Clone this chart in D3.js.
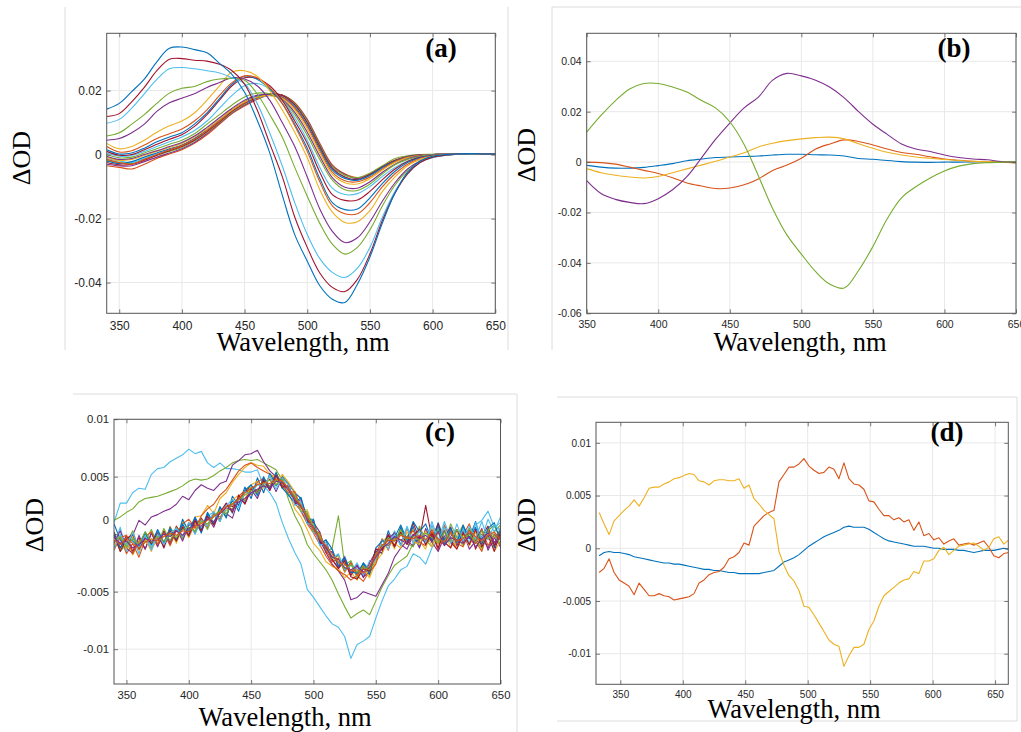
<!DOCTYPE html>
<html><head><meta charset="utf-8">
<script src="https://cdn.jsdelivr.net/npm/d3@7"></script>
<style>body{margin:0;background:#fff}svg{display:block}</style>
</head><body>
<svg id="chart" width="1021" height="732"></svg>
<script>
// ---------------- DATA (ΔOD values in units of 1e-4) ----------------
const U = 1e-4;
const XTICKS = [350,400,450,500,550,600,650];
const YTICKS_A = [-0.04,-0.02,0,0.02];
const YTICKS_B = [-0.06,-0.04,-0.02,0,0.02,0.04];
const YTICKS_C = [-0.01,-0.005,0,0.005,0.01];
const YTICKS_D = [-0.01,-0.005,0,0.005,0.01];

// Panel (a)
const WL_A = [340,350,360,370,380,390,400,410,420,430,440,450,460,470,480,490,500,510,520,530,540,550,560,570,580,590,600,610,620,630,640,650];
const A01 = [142,160,197,236,290,332,336,328, 318,285,250,195,108,6,-126,-250, -333,-410,-452,-462,-405,-320,-213,-120, -55,-20,-5,0,2,3,2,2];
const A02 = [119,128,165,210,262,298,300,295, 292,282,262,220,140,35,-68,-195, -290,-370,-415,-428,-390,-310,-205,-120, -60,-25,-8,-2,2,3,2,2];
const A03 = [98,110,145,190,235,268,272,268, 262,255,240,222,160,68,-35,-150, -250,-325,-368,-384,-355,-290,-195,-115, -60,-25,-10,-3,1,2,2,2];
const A04 = [58,68,95,125,160,192,207,213, 228,236,238,232,190,125,55,-40, -130,-215,-280,-311,-290,-235,-160,-95, -50,-22,-8,-2,1,2,2,2];
const A05 = [45,50,68,95,135,162,176,190, 210,225,240,236,215,170,100,25, -70,-170,-240,-275,-260,-210,-145,-88, -45,-20,-7,-2,1,2,2,2];
const A06 = [35,18,25,45,70,90,105,130, 170,215,258,262,245,200,140,70, -10,-110,-180,-212,-210,-175,-115,-70, -35,-15,-5,0,1,2,2,2];
const A07 = [25,8,12,30,50,65,80,105, 140,185,225,246,240,210,160,90, 10,-85,-160,-185,-185,-150,-100,-60, -30,-12,-4,0,1,2,2,2];
const A08 = [15,2,5,20,40,55,68,95, 130,175,220,245,235,205,160,95, 20,-75,-150,-172,-170,-135,-90,-52, -25,-10,-3,0,1,2,2,2];
const A09 = [10,-2,0,15,32,48,62,88, 125,170,215,240,238,215,170,105, 35,-55,-125,-143,-142,-115,-78,-45, -22,-8,-2,0,1,2,2,1];
const A10 = [5,-5,-3,10,25,40,55,75, 105,145,185,215,222,205,170,115, 45,-40,-105,-125,-122,-100,-68,-40, -20,-8,-2,0,1,2,2,2];
const A11 = [0,-10,-8,5,18,32,45,65, 95,125,155,180,192,190,170,125, 60,-15,-80,-110,-112,-92,-60,-32, -15,-5,-1,0,1,2,2,1];
const A12 = [-5,-15,-12,0,12,25,38,58, 85,115,145,170,185,188,172,132, 70,-5,-72,-102,-105,-85,-55,-30, -13,-4,0,1,1,2,2,1];
const A13 = [-8,-18,-15,-3,10,22,35,55, 80,110,140,165,180,185,175,140, 80,5,-62,-88,-92,-75,-48,-25, -10,-3,0,1,1,2,2,1];
const A14 = [-15,-25,-30,-15,0,15,28,48, 75,105,138,162,178,185,178,145, 88,12,-55,-82,-85,-70,-45,-22, -8,-2,0,1,1,2,2,1];
const A15 = [-20,-28,-22,-8,5,18,30,50, 78,108,140,165,182,188,180,148, 92,18,-48,-75,-80,-65,-40,-20, -7,-2,0,1,2,2,2,1];
const A16 = [-25,-32,-30,-18,-2,12,25,45, 72,102,135,160,178,190,185,155, 100,25,-42,-70,-78,-62,-38,-18, -6,-1,0,1,2,2,2,1];
const A17 = [-12,-20,-25,-12,2,15,26,46, 74,104,136,160,176,184,180,152, 98,22,-45,-72,-80,-66,-42,-22, -8,-2,0,1,2,2,2,1];
const A18 = [-18,-25,-28,-15,-2,10,22,42, 70,100,132,158,178,188,185,158, 105,30,-38,-65,-72,-58,-35,-12, -4,0,1,2,2,2,2,1];
const A19 = [-30,-35,-35,-22,-8,5,18,38, 66,98,130,155,175,188,186,160, 108,32,-35,-62,-75,-62,-40,-20, -6,-1,0,1,2,2,2,1];
const A20 = [-35,-40,-45,-30,-12,2,15,35, 62,95,128,152,172,186,186,162, 110,35,-32,-60,-72,-60,-38,-18, -5,-1,0,1,2,2,2,1];

// Panel (b)
const WL_B = [350,360,370,380,390,400,410,420,430,440,450,460,470,480,490,500,510,520,530,540,550,560,570,580,590,600,610,620,630,640,650];
const B_BLUE   = [-13,-20,-24,-24,-21,-14,-6,5,12,18,20,22,24,28,31,31,29,28,24,14,11,6,2,0,-1,0,0,1,1,1,1];
const B_ORANGE = [0,-2,-8,-20,-33,-45,-62,-83,-95,-105,-103,-90,-67,-33,-12,15,52,72,88,82,68,52,38,31,21,12,7,3,1,-1,-3];
const B_YELLOW = [-26,-42,-52,-59,-63,-57,-42,-27,-12,3,20,37,60,75,85,92,97,99,92,73,55,39,28,20,15,10,6,3,2,1,0];
const B_PURPLE = [-74,-125,-148,-160,-165,-145,-110,-58,15,90,155,215,258,325,352,342,325,297,255,200,150,110,72,52,42,28,18,12,9,2,0];
const B_GREEN  = [119,185,243,290,312,312,298,278,245,215,160,70,-55,-185,-290,-365,-435,-485,-500,-430,-335,-225,-142,-98,-63,-35,-16,-6,-2,0,1];

// Panel (c)
const WL_C = [340,345,350,355,360,365,370, 375,380,385,390,395,400,405, 410,415,420,425,430,435,440, 445,450,455,460,465,470,475, 480,485,490,495,500,505,510, 515,520,525,530,535,540,545, 550,555,560,565,570,575,580, 585,590,595,600,605,610,615, 620,625,630,635,640,645,650];
const C01 = [2,-14,-5,-18,-8,1,-12, 0,-9,7,-4,11,3,15, 16,25,18,31,36,45,52, 58,62,60,59,52,50,40, 36,22,15,4,-8,-14,-24, -28,-30,-38,-33,-40,-29,-36, -20,-6,-2,-13,6,-9,5, -6,-13,7,-9,4,-12,-1, 8,-10,2,-14,6,-7,-3];
const C02 = [-12,-2,-17,-8,-20,-5,-13, -3,-10,4,-5,9,13,5, 16,22,26,34,39,47,55, 60,62,58,55,52,47,44, 40,27,20,9,1,-9,-19, -27,-32,-35,-40,-36,-41,-32, -18,-4,-14,2,-10,5,-7, 5,-9,1,-14,8,-5,-12, -1,9,-6,-15,3,-9,6];
const C03 = [9,-5,-13,0,-11,2,-8, 3,-10,6,-6,13,2,15, 4,19,9,24,14,33,25, 41,31,49,36,53,42,50, 44,36,31,10,12,-8,-5, -23,-18,-33,-24,-38,-25,-31, -13,-17,3,-11,6,-8,7, -11,4,-7,10,-5,6,-10, 6,-4,11,-8,2,-12,5];
const C04 = [2,-12,-1,-15,-3,-13,1, -10,3,-7,7,-2,10,1, 14,6,19,11,26,24,31, 36,42,37,48,40,51,40, 42,27,28,12,10,-8,-7, -22,-29,-23,-36,-27,-37,-33, -15,-16,-1,-10,2,-8,10, -5,25,-4,9,-7,-12,4, -8,5,-13,-2,7,-10,1];
const C05 = [-10,6,-15,-2,-17,1,-11, 2,-9,5,-5,8,-1,12, 3,16,19,11,27,18,34, 28,42,33,47,38,50,43, 33,35,19,20,1,2,-15, -13,-27,-19,-33,-25,-36,-23, -24,-5,-13,3,-9,6,-7, 4,-9,8,-6,11,-4,-10, 5,-8,10,-4,13,2,15];
const C06 = [0,-15,-8,3,-13,-6,4, -9,5,-6,6,-4,9,2, 13,4,17,15,21,22,32, 29,40,38,43,42,47,44, 34,36,20,19,2,1,-15, -12,16,-27,-23,-35,-27,-30, -24,-9,-9,-5,4,-8,-11, 7,-5,-11,5,-8,9,-3, -10,5,-6,-12,3,8,-5];
const C07 = [-8,3,-12,-17,-1,-13,1, -11,2,-9,5,-6,8,11, 2,15,6,20,18,14,31, 27,39,31,45,48,37,49, 43,28,30,14,10,2,-16, -15,-28,-20,-34,-27,-38,-25, -15,-13,-4,1,-9,-13,-1, -12,5,-7,-15,-2,6,-10, 2,-13,-6,5,-14,-3,-11];
const C08 = [-10,-1,-13,-2,-14,-4,-15, -1,-9,3,-8,6,-3,9, 10,7,16,21,16,30,34, 30,43,46,40,50,43,52, 45,37,22,21,5,-1,-12, -23,-19,-33,-25,-37,-30,-38, -24,-17,-5,-8,-12,2,-6, -9,3,-11,1,-8,4,-13, 0,-10,3,-8,1,-15,-6];
const C09 = [-14,-3,-1,-17,-6,-2,2, -9,1,-10,3,7,-2,10, 12,7,18,13,25,21,33, 38,34,45,49,41,53,43, 36,37,23,17,4,1,-14, -24,-21,-32,-25,-36,-28,-33, -26,-9,-10,-3,-5,-2,3, -7,-10,4,-6,-9,3,-8, -11,1,-8,4,-10,0,-9];
const C10 = [1,-12,-3,-6,-11,1,-9, 4,-7,5,-5,9,-1,14, 1,18,9,23,15,30,20, 38,43,34,50,39,54,40, 34,27,32,13,13,-9,-5, -13,-29,-21,-33,-34,-25,-35, -12,-6,-6,-3,8,-5,11, 2,9,-6,7,-9,5,-7, 8,-4,6,-9,5,10,-6];
const C11 = [-1,-15,-4,0,-13,-3,-8, 1,-12,3,-6,6,-1,12, 3,16,8,19,27,19,34, 26,39,36,47,38,51,41, 42,27,26,12,6,-7,-10, -22,-30,-23,-37,-39,-30,-32, -13,-14,0,-11,1,-9,-1, 4,-9,1,-12,3,-7,-13, 1,-9,4,-11,-1,-15,2];
const C12 = [-13,0,-10,1,-12,-1,-14, 0,-9,1,5,-2,10,0, 12,7,20,11,25,30,23, 37,35,43,41,51,39,49, 43,25,28,9,9,-10,-7, -21,-17,-31,-27,-30,-35,-27, -21,-10,-9,0,-10,7,-8, 3,-7,11,-5,6,-8,9, -6,7,-4,11,-5,8,3];
const C13 = [-6,-2,-11,-4,-9,2,-7, -2,-6,0,-3,4,6,3, 11,9,16,20,18,27,30, 34,38,36,44,47,43,48, 39,33,25,16,8,-2,-13, -19,-24,-30,-27,-33,-29,-31, -17,-11,-3,-6,0,-4,-2, -5,1,-3,-8,2,-6,4, -3,0,-7,3,-4,-1,-9];
const C14 = [-3,-8,-6,-12,-9,-4,-6, -5,0,-2,3,-1,5,8, 7,13,11,18,23,21,28, 31,36,39,42,40,46,45, 38,30,24,13,6,-4,-12, -20,-22,-29,-31,-28,-33,-29, -20,-12,-8,-2,-5,-8,0, -4,-1,-6,2,-10,-3,-5, -8,-2,-11,-4,1,-7,-3];
const C15 = [-5,-9,-3,-8,-12,-7,-4, -6,-2,1,-1,3,2,7, 9,12,15,19,24,26,31, 36,40,43,45,44,48,46, 40,31,25,14,5,-4,-10, -17,-25,-26,-32,-31,-34,-28, -18,-10,-5,-6,-1,-3,-4, -1,-5,2,-4,-7,1,-6, -4,3,-2,-6,-1,2,-5];
const C_PURPLE = [-2,-8,-4,-1,12,8,15, 17,20,22,26,33,30,38, 43,40,38,44,46,60,64, 69,70,73,63,55,50,45, 40,32,20,11,3,-5,-16, -26,-32,-40,-57,-55,-50,-52, -54,-44,-34,-20,-12,-6,-10, -2,-8,-4,3,-9,-2,4, -6,1,-8,-3,-12,0,-5];
const C_GREEN  = [12,15,19,22,28,31,32, 33,35,37,39,42,46,48, 47,48,51,55,58,62,64, 65,64,65,62,59,56,47, 30,16,6,-9,-17,-24,-31, -40,-52,-63,-73,-69,-66,-70, -58,-46,-36,-27,-23,-19,-8, -3,-6,2,-4,-7,1,-5, 3,-2,-6,0,-4,2,8];
const C_LBLUE  = [10,27,27,36,40,39,52, 57,58,63,66,69,74,70, 72,62,58,62,57,57,56, 54,54,56,42,36,27,10, -4,-16,-26,-48,-55,-63,-71, -78,-81,-89,-108,-96,-93,-89, -73,-58,-45,-39,-31,-28,-17, -20,-26,-12,-4,-8,2,-3, 5,0,8,12,20,6,10];

// Panel (d)
const WL_D = [333,337,341,345,349,353,357,361,365,369, 373,377,381,385,389,393,397,401,405,409, 413,417,421,425,429,433,437,441,445,449, 453,457,461,465,469,473,477,481,485,489, 493,497,501,505,509,513,517,521,525,529, 533,537,541,545,549,553,557,561,565,569, 573,577,581,585,589,593,597,601,605,609, 613,617,621,625,629,633,637,641,645,649, 653,657,661];
const D_BLUE   = [-7,-4,-3,-4,-4,-5,-6,-8,-9,-10, -11,-12,-13,-14,-14,-15,-15,-16,-17,-18, -19,-20,-20,-21,-21,-22,-23,-23,-24,-24, -24,-24,-24,-23,-22,-21,-17,-13,-11,-9, -6,-2,2,5,8,11,13,15,17,20, 21,20,20,20,18,15,12,9,7,6, 5,4,3,2,2,2,1,0,0,-1, -1,-1,-2,-2,-3,-4,-3,-2,-2,-2, -1,0,-1];
const D_ORANGE = [-23,-19,-10,-23,-30,-33,-36,-44,-33,-39, -45,-45,-43,-45,-46,-49,-48,-47,-46,-43, -33,-30,-25,-23,-22,-18,-10,-8,-4,5, 3,21,26,31,34,36,63,70,77,77, 80,85,78,74,71,72,77,75,66,81, 66,61,60,56,45,44,37,31,31,27, 29,25,27,17,25,12,14,8,10,4, 7,9,3,4,5,3,5,7,1,-7, -9,-5,-4];
const D_YELLOW = [34,23,13,26,31,36,40,46,40,48, 57,58,58,61,63,66,67,69,71,70, 64,63,60,64,65,65,64,64,66,57, 60,47,42,36,32,28,-3,-16,-26,-31, -40,-55,-56,-63,-71,-79,-87,-91,-93,-112, -102,-94,-94,-91,-77,-69,-55,-45,-41,-37, -33,-30,-29,-22,-24,-12,-12,-10,-2,1, -6,-2,2,3,4,5,2,-2,1,9, 11,4,8];

// ---------------- STYLE ----------------
const COL = {blue:'#0072BD', orange:'#D95319', yellow:'#EDB120', purple:'#7E2F8E',
             green:'#77AC30', lblue:'#4DBEEE', dred:'#A2142F'};

const SER_A = [[A20,'orange'],[A19,'purple'],[A18,'green'],[A17,'lblue'],[A16,'dred'],[A15,'blue'],[A14,'orange'],[A13,'yellow'],[A12,'purple'],[A11,'green'],[A10,'lblue'],[A09,'dred'],[A08,'blue'],[A07,'orange'],[A06,'yellow'],[A05,'purple'],[A04,'green'],[A03,'lblue'],[A02,'dred'],[A01,'blue']];
const SER_B = [[B_BLUE,'blue'],[B_ORANGE,'orange'],[B_YELLOW,'yellow'],[B_PURPLE,'purple'],[B_GREEN,'green']];
const SER_C = [[C_LBLUE,'lblue'],[C_GREEN,'green'],[C_PURPLE,'purple'],[C01,'yellow'],[C02,'orange'],[C03,'blue'],[C04,'dred'],[C05,'lblue'],[C06,'green'],[C07,'purple'],[C08,'yellow'],[C09,'orange'],[C10,'blue'],[C11,'dred'],[C12,'lblue'],[C13,'green'],[C14,'purple'],[C15,'orange']];
const SER_D = [[D_BLUE,'blue'],[D_ORANGE,'orange'],[D_YELLOW,'yellow']];

const svg = d3.select('#chart');
const fmtY = v => v === 0 ? '0' : String(+v.toFixed(4));
const SANS = '"Liberation Sans", Arial, Helvetica, sans-serif';
const SERIF = '"Liberation Serif", "Times New Roman", Times, serif';

// light frames of the pasted sub-figures
const frames = [
  [65,7,65,350],[508,7,508,350],
  [552,7,552,350],[552,7,1021,7],
  [73,394,517,394],[517,394,517,732],
  [557,397,1017,397],[1017,397,1017,721],[557,721,1017,721]
];
svg.append('g').selectAll('line').data(frames).join('line')
  .attr('x1',d=>d[0]).attr('y1',d=>d[1]).attr('x2',d=>d[2]).attr('y2',d=>d[3])
  .attr('stroke','#dcdcdc').attr('stroke-width',1);

const panels = [
  {id:'a', L:106.7,R:495.3,T:33.3,B:313.3, xd:[340,650], yd:[-0.0496,0.0379], yt:YTICKS_A, wl:WL_A, ser:SER_A, fs:12, xoff:16.5, curve:d3.curveCatmullRom,
   xl:[303,351], yl:[30,158], tag:[441,57]},
  {id:'b', L:586.7,R:1016,T:33.3,B:313.3, xd:[350,650], yd:[-0.06,0.0511], yt:YTICKS_B, wl:WL_B, ser:SER_B, fs:10.5, xoff:15, curve:d3.curveCatmullRom,
   xl:[800,351], yl:[535,155], tag:[954,57]},
  {id:'c', L:114,R:500.5,T:419.3,B:684, xd:[340,650], yd:[-0.01303,0.00999], yt:YTICKS_C, wl:WL_C, ser:SER_C, fs:11.3, xoff:15.3, curve:d3.curveLinear,
   xl:[285,726], yl:[43,525], tag:[440,441], zeroShift:-14},
  {id:'d', L:596,R:1008.3,T:422.3,B:684.3, xd:[330.5,660.6], yd:[-0.0129,0.01195], yt:YTICKS_D, wl:WL_D, ser:SER_D, fs:10, xoff:14, curve:d3.curveLinear,
   xl:[794,718], yl:[535,525], tag:[947,441]}
];

panels.forEach(p => {
  const x = d3.scaleLinear().domain(p.xd).range([p.L,p.R]);
  const y = d3.scaleLinear().domain(p.yd).range([p.B,p.T]);
  const g = svg.append('g');
  const cid = 'clip-'+p.id;
  svg.append('clipPath').attr('id',cid).append('rect')
    .attr('x',p.L).attr('y',p.T).attr('width',p.R-p.L).attr('height',p.B-p.T);

  // grid
  g.append('g').selectAll('line').data(XTICKS).join('line')
    .attr('x1',d=>x(d)).attr('x2',d=>x(d)).attr('y1',p.T).attr('y2',p.B)
    .attr('stroke','#e8e8e8').attr('stroke-width',1);
  g.append('g').selectAll('line').data(p.yt).join('line')
    .attr('y1',d=>y(d)).attr('y2',d=>y(d)).attr('x1',p.L).attr('x2',p.R)
    .attr('stroke','#e8e8e8').attr('stroke-width',1);

  // data lines
  const line = d3.line().x(d=>x(d[0])).y(d=>y(d[1]*U)).curve(p.curve);
  g.append('g').attr('clip-path',`url(#${cid})`).selectAll('path').data(p.ser).join('path')
    .attr('d', s => line(p.wl.map((w,i)=>[w,s[0][i]]).filter(d=>d[1]!==undefined)))
    .attr('fill','none').attr('stroke',s=>COL[s[1]]).attr('stroke-width',1.1)
    .attr('stroke-linejoin','round');

  // axes (inward ticks on all four sides)
  const pad = p.xoff - 0.71*p.fs;
  const ax = [
    g.append('g').attr('transform',`translate(0,${p.B})`).call(d3.axisBottom(x).tickValues(XTICKS).tickSize(-4).tickPadding(pad).tickFormat(d3.format('d'))),
    g.append('g').attr('transform',`translate(0,${p.T})`).call(d3.axisTop(x).tickValues(XTICKS).tickSize(-4).tickFormat('')),
    g.append('g').attr('transform',`translate(${p.L},0)`).call(d3.axisLeft(y).tickValues(p.yt).tickSize(-4).tickPadding(5).tickFormat(fmtY)),
    g.append('g').attr('transform',`translate(${p.R},0)`).call(d3.axisRight(y).tickValues(p.yt).tickSize(-4).tickFormat(''))
  ];
  ax.forEach(a => {
    a.select('.domain').remove();
    a.selectAll('line').attr('stroke','#555').attr('stroke-width',0.8);
    a.selectAll('text').attr('fill','#262626').style('font-family',SANS).style('font-size',p.fs+'px');
  });
  if (p.zeroShift) {
    ax[2].selectAll('.tick').filter(d=>d===0).select('text').attr('transform',`translate(0,${p.zeroShift})`);
  }
  // box
  g.append('rect').attr('x',p.L).attr('y',p.T).attr('width',p.R-p.L).attr('height',p.B-p.T)
    .attr('fill','none').attr('stroke','#555').attr('stroke-width',1);

  // labels
  g.append('text').attr('x',p.xl[0]).attr('y',p.xl[1]).attr('text-anchor','middle')
    .style('font-family',SERIF).style('font-size','26.5px').attr('fill','#000').text('Wavelength, nm');
  g.append('text').attr('transform',`translate(${p.yl[0]},${p.yl[1]}) rotate(-90)`).attr('text-anchor','middle')
    .style('font-family',SERIF).style('font-size','26px').attr('fill','#000').text('ΔOD');
  g.append('text').attr('x',p.tag[0]).attr('y',p.tag[1]).attr('text-anchor','middle')
    .style('font-family',SERIF).style('font-size','27px').style('font-weight','bold').attr('fill','#000').text('('+p.id+')');
});
</script>
</body></html>
